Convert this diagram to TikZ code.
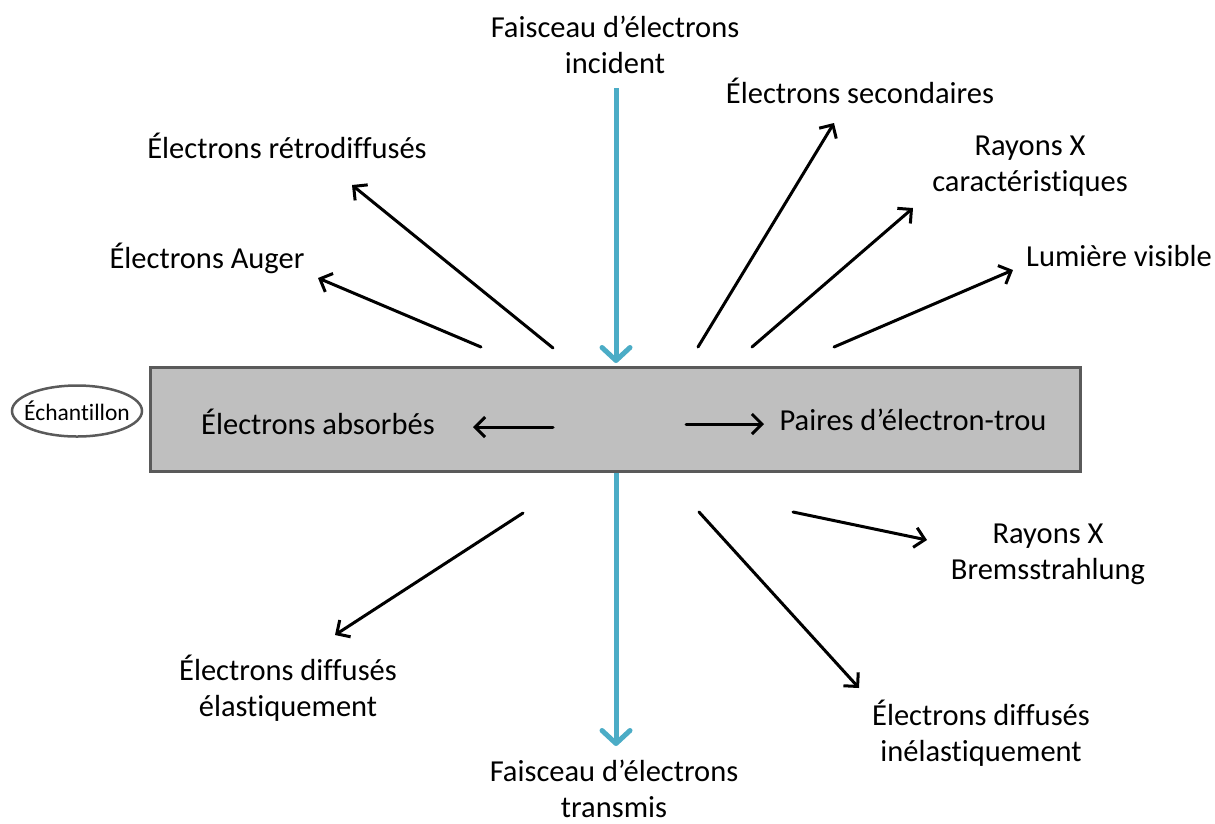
\documentclass[tikz,border=0pt]{standalone}
\usepackage{fontspec}
\setmainfont{Carlito}[Ligatures={NoCommon}]
\usetikzlibrary{arrows.meta,shapes.geometric}
\definecolor{beam}{RGB}{75,172,198}
\definecolor{boxfill}{RGB}{191,191,191}
\definecolor{boxline}{RGB}{90,90,90}
\tikzset{
  lbl/.style={align=center,font=\fontsize{30.5}{36}\selectfont,inner sep=0pt},
  blk/.style={line width=3pt,line cap=round,-{Straight Barb[length=10pt,width=20pt,line width=3pt]}},
  blu/.style={draw=beam,line width=5pt,-{Straight Barb[length=13pt,width=28pt,line width=5pt,round]}},
}
\begin{document}
\begin{tikzpicture}[x=1pt,y=-1pt]
\useasboundingbox (0,0) rectangle (1215,823);
% sample
\node[draw=boxline,fill=boxfill,line width=3pt,minimum width=930pt,minimum height=104pt,inner sep=0pt] (box) at (615,419) {};
\node[inner sep=0pt,font=\fontsize{23.5}{26}\selectfont] (ech) at (77,411) {Échantillon};
\draw[boxline,line width=2.5pt] (ech.center) ellipse [x radius=65, y radius=25.5];
% labels
\node[lbl] (inc) at (615,45) {Faisceau d’électrons\\incident};
\node[lbl] (sec) at (860,91) {Électrons secondaires};
\node[lbl] (retro) at (287,146) {Électrons rétrodiffusés};
\node[lbl] (rxc) at (1030,166) {Rayons X\\caractéristiques};
\node[lbl] (aug) at (207,258) {Électrons Auger};
\node[lbl] (lum) at (1119,256) {Lumière visible};
\node[lbl] (abs) at (318,422) {Électrons absorbés};
\node[lbl] (pair) at (913,420) {Paires d’électron-trou};
\node[lbl] (brem) at (1048,554) {Rayons X\\Bremsstrahlung};
\node[lbl] (ela) at (288,688) {Électrons diffusés\\élastiquement};
\node[lbl] (inel) at (981,733) {Électrons diffusés\\inélastiquement};
\node[lbl] (trans) at (614,789) {Faisceau d’électrons\\transmis};
% coordinates
\coordinate (i0) at (616,88);
\coordinate (i1) at (616,363);
\coordinate (t0) at (616,473);
\coordinate (t1) at (616,746);
\coordinate (r0) at (553,348); \coordinate (r1) at (352,185);
\coordinate (a0) at (481,347); \coordinate (a1) at (318,278);
\coordinate (s0) at (698,347); \coordinate (s1) at (834,123);
\coordinate (c0) at (752,347); \coordinate (c1) at (913,208);
\coordinate (l0) at (834,347); \coordinate (l1) at (1013,270);
\coordinate (b0) at (553,427); \coordinate (b1) at (473,427);
\coordinate (p0) at (686,424); \coordinate (p1) at (764,424);
\coordinate (e0) at (523,513); \coordinate (e1) at (335,635);
\coordinate (n0) at (699,512); \coordinate (n1) at (859,688);
\coordinate (x0) at (793,512); \coordinate (x1) at (927,540);
% beams
\draw[blu] (i0) -- (i1);
\draw[blu] (t0) -- (t1);
% signals
\draw[blk] (r0) -- (r1);
\draw[blk] (a0) -- (a1);
\draw[blk] (s0) -- (s1);
\draw[blk] (c0) -- (c1);
\draw[blk] (l0) -- (l1);
\draw[blk] (b0) -- (b1);
\draw[blk] (p0) -- (p1);
\draw[blk] (e0) -- (e1);
\draw[blk] (n0) -- (n1);
\draw[blk] (x0) -- (x1);
\end{tikzpicture}
\end{document}
